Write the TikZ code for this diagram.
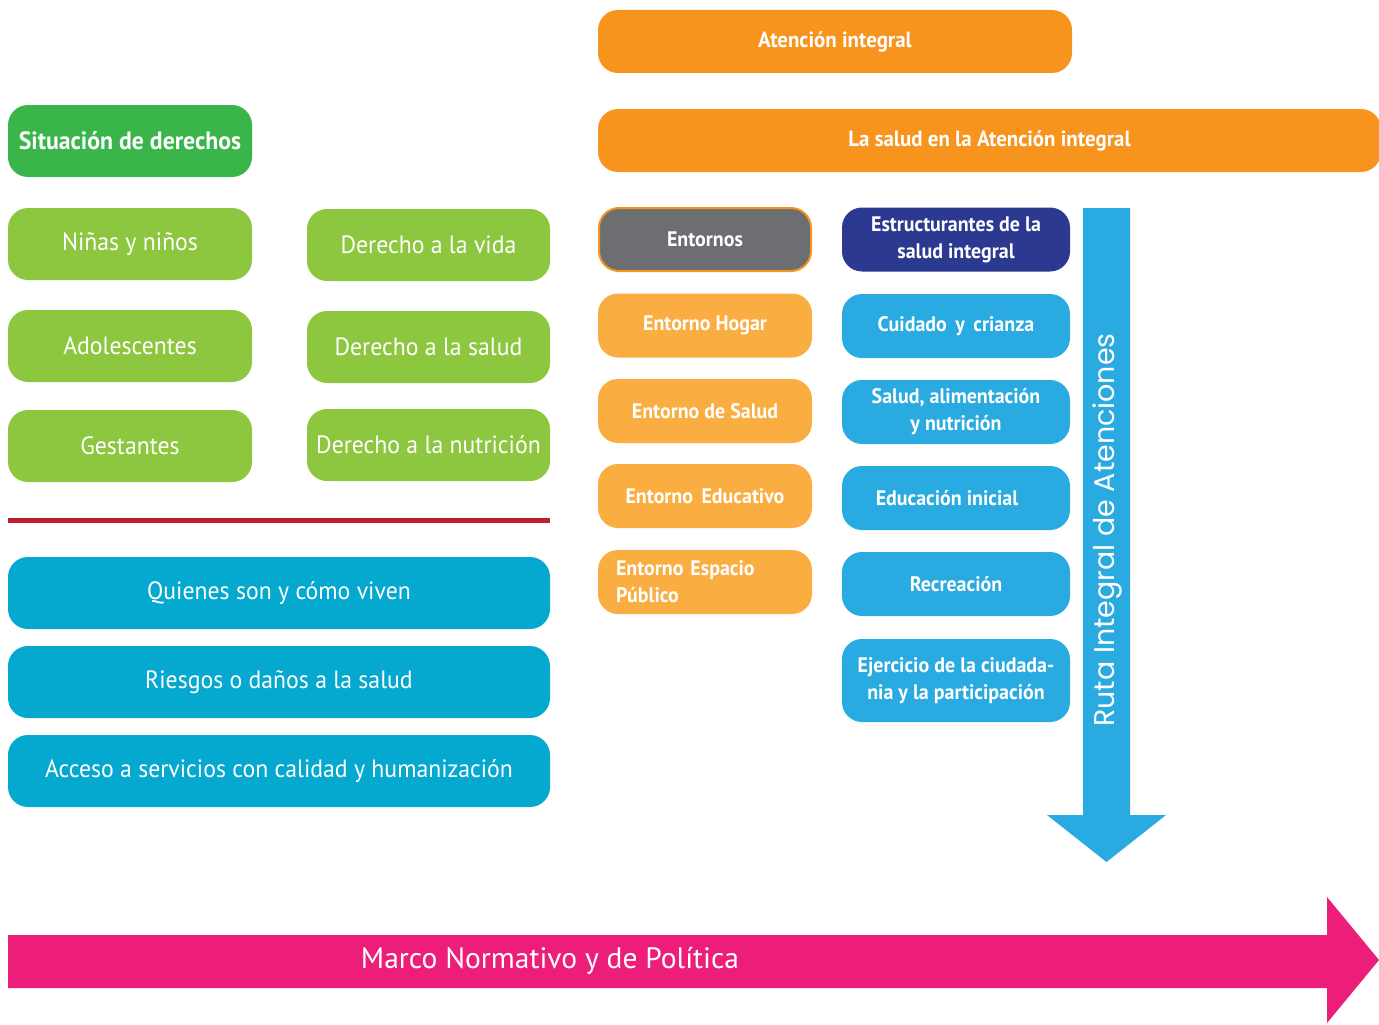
\documentclass[tikz,border=0pt]{standalone}
\usepackage{fontspec}
\setmainfont{PT Sans}
\newfontfamily\cond[FakeStretch=0.95]{PT Sans}
\newfontfamily\ruta{Poppins}
\definecolor{orT}{HTML}{F7941D}
\definecolor{orL}{HTML}{FAAD40}
\definecolor{grD}{HTML}{39B54A}
\definecolor{grL}{HTML}{8DC63F}
\definecolor{teal}{HTML}{05A8CF}
\definecolor{grayE}{HTML}{6D6E71}
\definecolor{blueD}{HTML}{2B3990}
\definecolor{blueL}{HTML}{29AAE1}
\definecolor{redline}{HTML}{BE1E2D}
\definecolor{pinkA}{HTML}{EC1E79}
\begin{document}
\begin{tikzpicture}[x=1pt,y=-1pt,
  box/.style={rounded corners=20pt, inner sep=0pt, text=white, align=center},
  regl/.style={font=\cond\fontsize{25}{29}\selectfont},
  boldl/.style={font=\cond\bfseries\fontsize{21}{27}\selectfont},
  leftbox/.style={box, regl, minimum width=244pt, minimum height=72pt},
  widebox/.style={box, regl, fill=teal, minimum width=542pt, minimum height=72pt},
  envbox/.style={box, boldl, fill=orL, minimum width=214pt, minimum height=64pt},
  strbox/.style={box, boldl, fill=blueL, minimum width=228pt, minimum height=64pt}]
\useasboundingbox (0,0) rectangle (1379,1025);

% top orange
\node[box, fill=orT, minimum width=474pt, minimum height=63pt, font=\cond\bfseries\fontsize{22}{26}\selectfont] (atencion) at (835,41.5) {Atención integral};
\node[box, fill=orT, minimum width=783pt, minimum height=63pt, font=\cond\bfseries\fontsize{22}{26}\selectfont] (salud) at (989.5,140.5) {La salud en la Atención integral};

% left column
\node[box, fill=grD, minimum width=244pt, minimum height=72pt, font=\cond\bfseries\fontsize{25}{30}\selectfont] (situacion) at (130,141) {Situación de derechos};
\node[leftbox, fill=grL] (ninos) at (130,244) {Niñas y niños};
\node[leftbox, fill=grL] (adol) at (130,346) {Adolescentes};
\node[leftbox, fill=grL] (gest) at (130,446) {Gestantes};
\node[leftbox, fill=grL, minimum width=243pt] (vida) at (428.5,245) {Derecho a la vida};
\node[leftbox, fill=grL, minimum width=243pt] (dsalud) at (428.5,347) {Derecho a la salud};
\node[leftbox, fill=grL, minimum width=243pt] (nutri) at (428.5,445) {Derecho a la nutrición};

\draw[line width=5pt, redline] (8,520) -- (550,520);

\node[widebox] (quienes) at (279,593) {Quienes son y cómo viven};
\node[widebox] (riesgos) at (279,682) {Riesgos o daños a la salud};
\node[widebox] (acceso) at (279,771) {Acceso a servicios con calidad y humanización};

% entornos column
\node[box, boldl, fill=grayE, draw=orT, line width=2pt, minimum width=212pt, minimum height=63pt] (entornos) at (705,239.5) {Entornos};
\node[envbox] (hogar) at (705,325.5) {Entorno Hogar};
\node[envbox] (esalud) at (705,411) {Entorno de Salud};
\node[envbox] (educ) at (705,496) {Entorno\, Educativo};
\node[envbox, text width=178pt, align=left] (espacio) at (705,582) {Entorno Espacio\\Público};

% estructurantes column
\node[strbox, fill=blueD] (estr) at (956,239.5) {Estructurantes de la\\salud integral};
\node[strbox] (cuidado) at (956,326) {Cuidado\, y\, crianza};
\node[strbox] (alim) at (956,412) {Salud, alimentación\\y nutrición};
\node[strbox] (inicial) at (956,498) {\hspace*{-18pt}Educación inicial};
\node[strbox] (recre) at (956,584) {Recreación};
\node[strbox, minimum height=83pt] (ejer) at (956,680.5) {Ejercicio de la ciudada-\\nia y la participación};

% vertical arrow
\fill[blueL] (1083,208) -- (1130,208) -- (1130,815) -- (1166,815) -- (1106.5,862) -- (1047,815) -- (1083,815) -- cycle;
\node[rotate=90, text=white, font=\ruta\fontsize{28.5}{32}\selectfont, inner sep=0pt] (ruta) at (1107,530) {Ruta Integral de Atenciones};

% horizontal arrow
\fill[pinkA] (8,935) -- (1327,935) -- (1327,897) -- (1379,960) -- (1327,1023) -- (1327,988) -- (8,988) -- cycle;
\node[text=white, font=\fontsize{29.5}{33}\selectfont, inner sep=0pt] (marco) at (550,961) {Marco Normativo y de Política};
\end{tikzpicture}
\end{document}
